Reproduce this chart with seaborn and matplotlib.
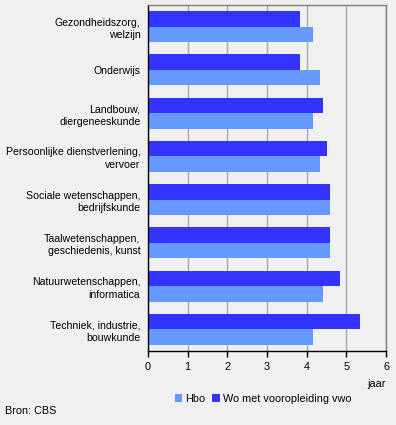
import numpy as np
import matplotlib
matplotlib.use("Agg")
import matplotlib.pyplot as plt
import seaborn as sns
import pandas as pd
from matplotlib.patches import Patch

categories = ["Gezondheidszorg,\nwelzijn", "Onderwijs", "Landbouw,\ndiergeneeskunde",
              "Persoonlijke dienstverlening,\nvervoer", "Sociale wetenschappen,\nbedrijfskunde",
              "Taalwetenschappen,\ngeschiedenis, kunst", "Natuurwetenschappen,\ninformatica",
              "Techniek, industrie,\nbouwkunde"]
hbo = [4.16, 4.34, 4.16, 4.34, 4.59, 4.59, 4.41, 4.16]
wo = [3.83, 3.83, 4.41, 4.51, 4.59, 4.59, 4.84, 5.34]
series = ["Hbo", "Wo met vooropleiding vwo"]
colors = {"Hbo": "#6699ff", "Wo met vooropleiding vwo": "#3333ff"}

df = pd.DataFrame({
    "cat": categories * 2,
    "jaar": hbo + wo,
    "reeks": ["Hbo"] * len(hbo) + ["Wo met vooropleiding vwo"] * len(wo),
})

sns.set_style("white")
plt.rcParams["font.family"] = ["Liberation Sans", "DejaVu Sans"]
plt.rcParams["text.color"] = "black"
plt.rcParams["xtick.color"] = "black"
plt.rcParams["ytick.color"] = "black"
bg = "#f0f0f0"

fig = plt.figure(figsize=(3.96, 4.25), dpi=100, facecolor=bg)
ax = fig.add_axes([148 / 396, 1 - 351 / 425, 238 / 396, 346 / 425])
ax.set_facecolor(bg)

sns.barplot(data=df, x="jaar", y="cat", hue="reeks", order=categories,
            hue_order=["Wo met vooropleiding vwo", "Hbo"], palette=colors,
            width=0.72, saturation=1, linewidth=0, legend=False, ax=ax)

ax.set_xlim(0, 6)
ax.set_xticks(range(7))
ax.xaxis.grid(True, color="#a8a8a8", linewidth=1)
ax.set_axisbelow(True)
ax.set_xlabel("")
ax.set_ylabel("")
ax.tick_params(axis="x", length=4, width=1, color="black", labelcolor="black",
               labelsize=7.8, pad=4, bottom=True)
ax.tick_params(axis="y", length=0, labelsize=7.6, labelcolor="black", pad=5.5)
for lbl in ax.get_yticklabels():
    lbl.set_horizontalalignment("right")
    lbl.set_multialignment("right")
    lbl.set_linespacing(1.3)

for s in ["top", "right"]:
    ax.spines[s].set_color("#808080")
    ax.spines[s].set_linewidth(1)
for s in ["left", "bottom"]:
    ax.spines[s].set_color("black")
    ax.spines[s].set_linewidth(1)

fig.text(386 / 396, 1 - 384 / 425, "jaar", ha="right", va="center", fontsize=7.8)
fig.text(5 / 396, 1 - 411 / 425, "Bron: CBS", ha="left", va="center", fontsize=7.8)

handles = [Patch(facecolor=colors[s], edgecolor="none", label=s) for s in series]
fig.legend(handles=handles, loc="center", bbox_to_anchor=(263 / 396, 1 - 399 / 425),
           ncol=2, frameon=False, fontsize=7.8, handlelength=0.7, handleheight=0.7,
           handletextpad=0.3, columnspacing=0.6, borderaxespad=0)

fig.savefig("out.png", dpi=100, facecolor=bg)
